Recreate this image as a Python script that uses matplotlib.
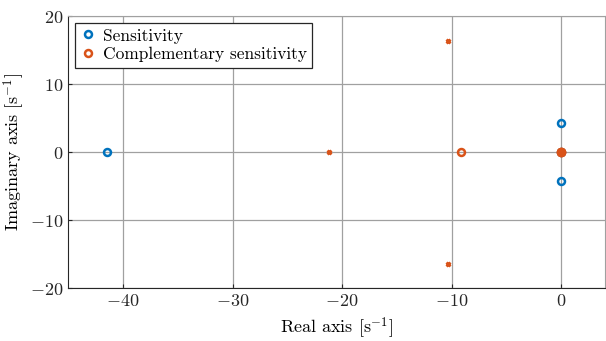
import numpy as np
import matplotlib
matplotlib.use("Agg")
import matplotlib.pyplot as plt

plt.rcParams['font.family'] = 'serif'
plt.rcParams['font.serif'] = ['cmr10', 'DejaVu Serif']
plt.rcParams['mathtext.fontset'] = 'cm'
plt.rcParams['axes.unicode_minus'] = False
plt.rcParams['axes.formatter.use_mathtext'] = True

# zeros of the sensitivity
s_zeros_re = [-41.5, 0.0, 0.0, 0.0]
s_zeros_im = [0.0, 4.3, -4.3, 0.0]
# zeros of the complementary sensitivity
t_zeros_re = [-9.1, 0.0, 0.0]
t_zeros_im = [0.0, 0.0, 0.0]
# poles (shared)
poles_re = [-21.2, -10.3, -10.3]
poles_im = [0.0, 16.4, -16.4]

blue = (0.0, 0.447, 0.741)
orange = (0.85, 0.325, 0.098)

fig, ax = plt.subplots(figsize=(6.06, 3.41), dpi=100)
fig.subplots_adjust(left=0.113, right=0.998, bottom=0.155, top=0.953)

ax.plot(s_zeros_re, s_zeros_im, 'o', color=blue, mfc='none', mew=1.8, ms=5,
        label='Sensitivity')
ax.plot(t_zeros_re, t_zeros_im, 'o', color=orange, mfc='none', mew=1.8, ms=5,
        label='Complementary sensitivity')
ax.plot(poles_re, poles_im, 'x', color=orange, mew=2, ms=3.5)
ax.plot([0], [0], 'o', color=orange, ms=6)

ax.set_xlim(-45, 4)
ax.set_ylim(-20, 20)
ax.set_xticks([-40, -30, -20, -10, 0])
ax.set_yticks([-20, -10, 0, 10, 20])
ax.grid(True, color='#a0a0a0', lw=0.9)
ax.set_axisbelow(True)
ax.tick_params(direction='in', length=3, labelsize=13, colors='#262626')
for s in ['left', 'bottom']:
    ax.spines[s].set_color('#262626')
for s in ['top', 'right']:
    ax.spines[s].set_color('#a0a0a0')

ax.set_xlabel(r'Real axis [s$^{-1}$]', fontsize=13, labelpad=5)
ax.set_ylabel(r'Imaginary axis [s$^{-1}$]', fontsize=13, labelpad=2)

leg = ax.legend(loc='upper left', fontsize=12.5, fancybox=False, framealpha=1,
                edgecolor='#262626', handlelength=0.8, handletextpad=0.5,
                borderpad=0.3, labelspacing=0.2, borderaxespad=0.4)
leg.get_frame().set_linewidth(0.9)

fig.savefig('out.png', dpi=100)
